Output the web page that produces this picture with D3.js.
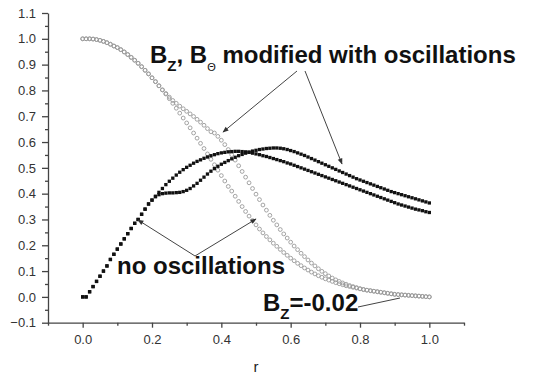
<!DOCTYPE html>
<html>
<head>
<meta charset="utf-8">
<script src="https://cdn.jsdelivr.net/npm/d3@7"></script>
<style>
  body { margin: 0; background: #fff; }
  svg { display: block; font-family: "Liberation Sans", Arial, sans-serif; }
  .axis path, .axis line { stroke: #444; stroke-width: 1.3; }
  .axis text { fill: #333; font-size: 13px; }
  .lbl { font-weight: bold; fill: #111; }
</style>
</head>
<body>
<svg id="chart" width="535" height="378"></svg>
<script>
// radius grid (r)
const rVals = [0,0.01,0.02,0.03,0.04,0.05,0.06,0.07,0.08,0.09,0.1,0.11,0.12,0.13,0.14,0.15,0.16,0.17,0.18,0.19,0.2,
  0.21,0.22,0.23,0.24,0.25,0.26,0.27,0.28,0.29,0.3,0.31,0.32,0.33,0.34,0.35,0.36,0.37,0.38,0.39,0.4,
  0.41,0.42,0.43,0.44,0.45,0.46,0.47,0.48,0.49,0.5,0.51,0.52,0.53,0.54,0.55,0.56,0.57,0.58,0.59,0.6,
  0.61,0.62,0.63,0.64,0.65,0.66,0.67,0.68,0.69,0.7,0.71,0.72,0.73,0.74,0.75,0.76,0.77,0.78,0.79,0.8,
  0.81,0.82,0.83,0.84,0.85,0.86,0.87,0.88,0.89,0.9,0.91,0.92,0.93,0.94,0.95,0.96,0.97,0.98,0.99,1.0]

// B_theta (black squares), no oscillations
const bThetaPlain = [0,0,0.02,0.04,0.06,0.08,0.1,0.12,0.145,0.165,0.185,0.205,0.225,0.245,0.265,0.285,0.3,0.32,0.34,0.36,0.375,
  0.39,0.405,0.42,0.435,0.448,0.46,0.472,0.483,0.493,0.502,0.51,0.518,0.525,0.531,0.537,0.542,0.547,0.551,0.555,0.558,
  0.56,0.562,0.563,0.564,0.564,0.563,0.562,0.56,0.557,0.554,0.551,0.547,0.544,0.54,0.536,0.532,0.528,0.524,0.519,0.515,
  0.51,0.505,0.5,0.495,0.49,0.485,0.48,0.475,0.47,0.465,0.46,0.455,0.45,0.445,0.44,0.435,0.43,0.425,0.42,0.415,
  0.41,0.405,0.4,0.395,0.39,0.385,0.38,0.375,0.37,0.365,0.36,0.356,0.352,0.348,0.344,0.34,0.337,0.334,0.33,0.327]

// B_theta (black squares), modified with oscillations
const bThetaOsc = [0,0,0.02,0.04,0.06,0.08,0.1,0.12,0.145,0.165,0.185,0.205,0.225,0.245,0.265,0.285,0.3,0.32,0.34,0.36,0.375,
  0.388,0.396,0.4,0.402,0.403,0.403,0.404,0.405,0.408,0.413,0.42,0.43,0.44,0.452,0.464,0.476,0.487,0.497,0.506,0.514,
  0.521,0.528,0.535,0.541,0.547,0.552,0.557,0.561,0.565,0.568,0.571,0.573,0.575,0.576,0.577,0.577,0.576,0.574,0.571,0.567,
  0.563,0.558,0.553,0.548,0.542,0.536,0.53,0.524,0.518,0.512,0.506,0.5,0.494,0.488,0.482,0.476,0.47,0.464,0.458,0.453,
  0.448,0.443,0.438,0.433,0.428,0.423,0.418,0.413,0.408,0.404,0.4,0.396,0.392,0.388,0.384,0.38,0.376,0.372,0.368,0.364]

// B_z (grey circles), no oscillations
const bzPlain = [1,1,1,0.999,0.997,0.994,0.99,0.985,0.979,0.972,0.966,0.958,0.949,0.939,0.928,0.917,0.905,0.892,0.878,0.864,0.849,
  0.834,0.818,0.802,0.786,0.768,0.75,0.731,0.712,0.693,0.674,0.655,0.635,0.615,0.595,0.575,0.554,0.533,0.512,0.491,0.47,
  0.449,0.428,0.41,0.39,0.37,0.35,0.331,0.313,0.296,0.279,0.263,0.248,0.234,0.221,0.208,0.196,0.184,0.172,0.161,0.15,
  0.14,0.13,0.121,0.112,0.104,0.096,0.089,0.082,0.076,0.07,0.065,0.06,0.055,0.051,0.047,0.043,0.04,0.037,0.034,0.031,
  0.028,0.026,0.024,0.022,0.02,0.018,0.016,0.014,0.012,0.01,0.009,0.008,0.007,0.006,0.005,0.004,0.003,0.002,0.001,0]

// B_z (grey circles), modified with oscillations
const bzOsc = [1,1,1,0.999,0.997,0.994,0.99,0.985,0.979,0.972,0.966,0.958,0.949,0.939,0.928,0.917,0.905,0.892,0.878,0.864,0.849,
  0.834,0.818,0.802,0.788,0.774,0.761,0.75,0.739,0.729,0.719,0.709,0.699,0.688,0.677,0.665,0.652,0.64,0.635,0.622,0.607,
  0.59,0.571,0.551,0.53,0.508,0.486,0.464,0.442,0.42,0.398,0.377,0.356,0.336,0.316,0.297,0.279,0.261,0.244,0.228,0.212,
  0.197,0.183,0.169,0.156,0.143,0.131,0.12,0.109,0.099,0.09,0.081,0.073,0.066,0.06,0.054,0.049,0.044,0.04,0.036,0.032,
  0.029,0.026,0.024,0.022,0.02,0.018,0.016,0.014,0.012,0.01,0.009,0.008,0.007,0.006,0.005,0.004,0.003,0.002,0.001,0]

const xTicks = [0, 0.2, 0.4, 0.6, 0.8, 1.0]
const xMinor = [-0.1, 0.1, 0.3, 0.5, 0.7, 0.9, 1.1]
const yTicks = [-0.1, 0.0, 0.1, 0.2, 0.3, 0.4, 0.5, 0.6, 0.7, 0.8, 0.9, 1.0, 1.1]
const yMinor = [-0.05, 0.05, 0.15, 0.25, 0.35, 0.45, 0.55, 0.65, 0.75, 0.85, 0.95, 1.05]

const svg = d3.select('#chart')
const x = d3.scaleLinear().domain([-0.1, 1.1]).range([48, 464])
const y = d3.scaleLinear().domain([-0.1, 1.1]).range([322.7, 13])

// axes
svg.append('g').attr('class', 'axis')
  .attr('transform', 'translate(0,322.7)')
  .call(d3.axisBottom(x).tickValues(xTicks).tickSize(5).tickSizeOuter(0).tickFormat(d3.format('.1f')))
  .call(g => g.selectAll('text').attr('dy', '1.05em'))
svg.append('g').attr('class', 'axis')
  .attr('transform', 'translate(0,322.7)')
  .call(d3.axisBottom(x).tickValues(xMinor).tickSize(3).tickSizeOuter(0).tickFormat(''))
  .call(g => g.select('.domain').remove())

svg.append('g').attr('class', 'axis')
  .attr('transform', 'translate(48,0)')
  .call(d3.axisLeft(y).tickValues(yTicks).tickSize(6).tickSizeOuter(0).tickFormat(d3.format('.1f')))
  .call(g => g.selectAll('text').attr('x', -12))
svg.append('g').attr('class', 'axis')
  .attr('transform', 'translate(48,0)')
  .call(d3.axisLeft(y).tickValues(yMinor).tickSize(3).tickSizeOuter(0).tickFormat(''))
  .call(g => g.select('.domain').remove())

svg.append('text').attr('x', x(0.5)).attr('y', 372)
  .attr('text-anchor', 'middle').attr('font-size', 15).attr('fill', '#222').text('r')

// grey open circles
const greySeries = [bzPlain, bzOsc]
greySeries.forEach(vals => {
  svg.append('g').selectAll('circle')
    .data(rVals.map((r, i) => [r, vals[i]]))
    .join('circle')
    .attr('cx', d => x(d[0]))
    .attr('cy', d => y(d[1]))
    .attr('r', 1.9)
    .attr('fill', 'none')
    .attr('stroke', '#9a9a9a')
    .attr('stroke-width', 0.9)
})

// black squares
const blackSeries = [bThetaPlain, bThetaOsc]
const sq = 3.3
blackSeries.forEach(vals => {
  svg.append('g').selectAll('rect')
    .data(rVals.map((r, i) => [r, vals[i]]))
    .join('rect')
    .attr('x', d => x(d[0]) - sq / 2)
    .attr('y', d => y(d[1]) - sq / 2)
    .attr('width', sq)
    .attr('height', sq)
    .attr('fill', '#111')
})

// annotation arrows
const defs = svg.append('defs')
defs.append('marker').attr('id', 'ah')
  .attr('viewBox', '0 0 10 10').attr('refX', 9).attr('refY', 5)
  .attr('markerWidth', 7).attr('markerHeight', 6).attr('orient', 'auto')
  .attr('markerUnits', 'userSpaceOnUse')
  .append('path').attr('d', 'M0,1 L10,5 L0,9 Z').attr('fill', '#333')

const arrows = [
  [[297, 71], [223, 132]],
  [[305, 71], [342, 164]],
  [[195, 256], [138, 220]],
  [[195, 256], [256, 219]]
]
arrows.forEach(a => {
  svg.append('line')
    .attr('x1', a[0][0]).attr('y1', a[0][1])
    .attr('x2', a[1][0]).attr('y2', a[1][1])
    .attr('stroke', '#444').attr('stroke-width', 1)
    .attr('marker-end', 'url(#ah)')
})
svg.append('line')
  .attr('x1', 358).attr('y1', 307).attr('x2', 400).attr('y2', 298)
  .attr('stroke', '#444').attr('stroke-width', 1)

// labels
const t1 = svg.append('text').attr('class', 'lbl').attr('x', 150).attr('y', 63).attr('font-size', 24)
t1.append('tspan').text('B')
t1.append('tspan').attr('dy', 8).attr('font-size', 15).text('Z')
t1.append('tspan').attr('dy', -8).text(', B')
t1.append('tspan').attr('dy', 8).attr('font-size', 11).attr('font-weight', 'normal').text('Θ')
t1.append('tspan').attr('dy', -8).text(' modified with oscillations')

svg.append('text').attr('class', 'lbl').attr('x', 117).attr('y', 274).attr('font-size', 24)
  .text('no oscillations')

const t3 = svg.append('text').attr('class', 'lbl').attr('x', 263).attr('y', 311).attr('font-size', 24)
t3.append('tspan').text('B')
t3.append('tspan').attr('dy', 8).attr('font-size', 15).text('Z')
t3.append('tspan').attr('dy', -8).text('=-0.02')
</script>
</body>
</html>
